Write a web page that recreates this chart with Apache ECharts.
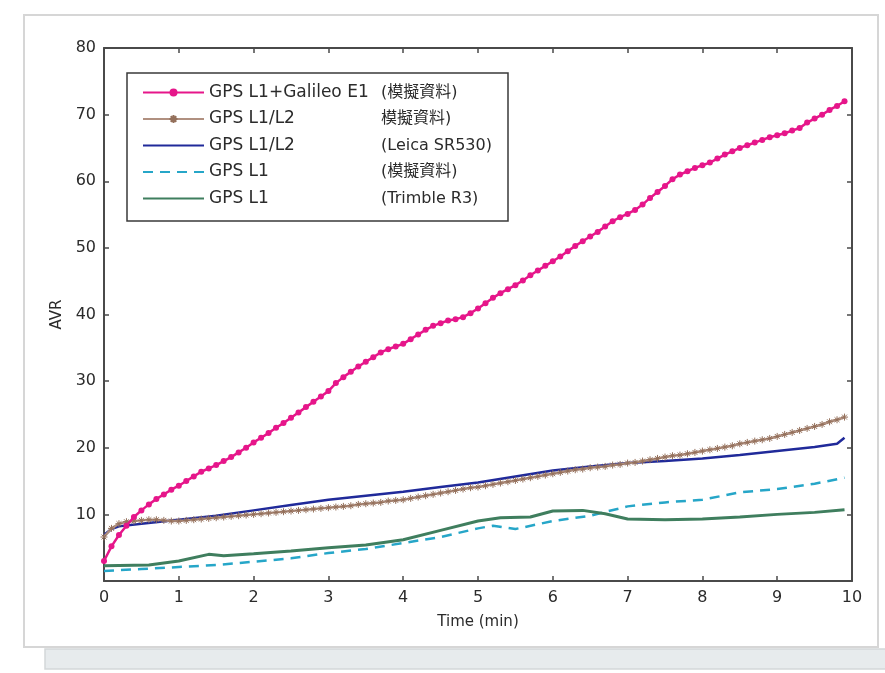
<!DOCTYPE html>
<html>
<head>
<meta charset="utf-8">
<script src="https://cdn.jsdelivr.net/npm/echarts@6/dist/echarts.min.js"></script>
<style>
  html, body { margin: 0; padding: 0; background: #fff; }
  #main { width: 885px; height: 673px; }
</style>
</head>
<body>
<div id="main"></div>
<script>
// time axis for the two marker series (min)
const tDense = [0.0, 0.1, 0.2, 0.3, 0.4, 0.5, 0.6, 0.7, 0.8, 0.9,
    1.0, 1.1, 1.2, 1.3, 1.4, 1.5, 1.6, 1.7, 1.8, 1.9,
    2.0, 2.1, 2.2, 2.3, 2.4, 2.5, 2.6, 2.7, 2.8, 2.9,
    3.0, 3.1, 3.2, 3.3, 3.4, 3.5, 3.6, 3.7, 3.8, 3.9,
    4.0, 4.1, 4.2, 4.3, 4.4, 4.5, 4.6, 4.7, 4.8, 4.9,
    5.0, 5.1, 5.2, 5.3, 5.4, 5.5, 5.6, 5.7, 5.8, 5.9,
    6.0, 6.1, 6.2, 6.3, 6.4, 6.5, 6.6, 6.7, 6.8, 6.9,
    7.0, 7.1, 7.2, 7.3, 7.4, 7.5, 7.6, 7.7, 7.8, 7.9,
    8.0, 8.1, 8.2, 8.3, 8.4, 8.5, 8.6, 8.7, 8.8, 8.9,
    9.0, 9.1, 9.2, 9.3, 9.4, 9.5, 9.6, 9.7, 9.8, 9.9];

// GPS L1+Galileo E1 (simulated)
const galileoSim = [3.0, 5.2, 6.9, 8.3, 9.6, 10.6, 11.5, 12.3, 13.0, 13.7,
    14.3, 15.0, 15.7, 16.4, 16.9, 17.4, 18.0, 18.6, 19.3, 20.0,
    20.8, 21.5, 22.2, 23.0, 23.7, 24.5, 25.3, 26.1, 26.9, 27.7,
    28.5, 29.7, 30.6, 31.4, 32.2, 32.9, 33.6, 34.3, 34.8, 35.2,
    35.6, 36.3, 37.0, 37.7, 38.3, 38.7, 39.1, 39.3, 39.6, 40.2,
    40.9, 41.7, 42.5, 43.2, 43.8, 44.4, 45.1, 45.9, 46.6, 47.3,
    48.0, 48.7, 49.5, 50.3, 51.0, 51.7, 52.4, 53.2, 54.0, 54.6,
    55.1, 55.7, 56.5, 57.5, 58.4, 59.3, 60.3, 61.0, 61.5, 62.0,
    62.4, 62.8, 63.4, 64.0, 64.5, 65.0, 65.4, 65.8, 66.2, 66.6,
    66.9, 67.2, 67.6, 68.0, 68.8, 69.4, 70.0, 70.7, 71.3, 72.0];

// GPS L1/L2 (simulated)
const dualSim = [6.6, 7.9, 8.6, 8.9, 9.0, 9.1, 9.2, 9.2, 9.1, 9.0,
    9.0, 9.1, 9.2, 9.3, 9.4, 9.5, 9.6, 9.7, 9.8, 9.9,
    10.0, 10.1, 10.2, 10.3, 10.4, 10.5, 10.6, 10.7, 10.8, 10.9,
    11.0, 11.1, 11.2, 11.3, 11.5, 11.6, 11.7, 11.8, 12.0, 12.1,
    12.2, 12.4, 12.6, 12.8, 13.0, 13.2, 13.4, 13.6, 13.8, 14.0,
    14.1, 14.3, 14.5, 14.7, 14.9, 15.1, 15.3, 15.5, 15.7, 15.9,
    16.1, 16.3, 16.5, 16.7, 16.8, 17.0, 17.1, 17.2, 17.4, 17.5,
    17.7, 17.8, 18.0, 18.2, 18.4, 18.6, 18.8, 18.9, 19.1, 19.3,
    19.5, 19.7, 19.9, 20.1, 20.3, 20.6, 20.8, 21.0, 21.2, 21.4,
    21.7, 22.0, 22.3, 22.6, 22.9, 23.2, 23.5, 23.9, 24.2, 24.6];

// GPS L1/L2 (Leica SR530)
const tLeica = [0, 0.1, 0.2, 0.5, 1, 1.5, 2, 2.5, 3, 3.5, 4, 4.5, 5, 5.5, 6, 6.5, 7, 7.5, 8, 8.5, 9, 9.5, 9.8, 9.9];
const leica = [6.9, 7.8, 8.2, 8.6, 9.2, 9.8, 10.6, 11.4, 12.2, 12.8, 13.4, 14.1, 14.8, 15.7, 16.6, 17.2, 17.7, 18.0, 18.4, 18.9, 19.5, 20.1, 20.6, 21.5];

// GPS L1 (simulated)
const tL1Sim = [0, 0.5, 1, 1.5, 2, 2.5, 3, 3.5, 4, 4.5, 5, 5.2, 5.5, 6, 6.5, 7, 7.5, 8, 8.5, 9, 9.5, 9.9];
const l1Sim = [1.5, 1.8, 2.1, 2.4, 2.9, 3.4, 4.2, 4.8, 5.7, 6.6, 7.9, 8.3, 7.8, 9.0, 9.8, 11.2, 11.8, 12.2, 13.3, 13.8, 14.6, 15.5];

// GPS L1 (Trimble R3)
const tTrimble = [0, 0.6, 1.0, 1.4, 1.6, 2.0, 2.5, 3.0, 3.5, 4.0, 4.5, 5.0, 5.3, 5.7, 6.0, 6.4, 6.7, 7.0, 7.5, 8.0, 8.5, 9.0, 9.5, 9.9];
const trimble = [2.3, 2.4, 3.0, 4.0, 3.8, 4.1, 4.5, 5.0, 5.4, 6.2, 7.6, 9.0, 9.5, 9.6, 10.5, 10.6, 10.1, 9.3, 9.2, 9.3, 9.6, 10.0, 10.3, 10.7];

const legendLeft = ['GPS L1+Galileo E1', 'GPS L1/L2', 'GPS L1/L2', 'GPS L1', 'GPS L1'];
const legendRight = ['(模擬資料)', '模擬資料)', '(Leica SR530)', '(模擬資料)', '(Trimble R3)'];
const seriesNames = legendLeft.map(function (s, i) { return s + ' ' + legendRight[i]; });

const yTicks = [10, 20, 30, 40, 50, 60, 70, 80];

function pairs(xs, ys) {
    return xs.map(function (x, i) { return [x, ys[i]]; });
}

const font = "'DejaVu Sans', 'Noto Sans CJK TC', sans-serif";
const textColor = '#2b2b2b';
const axisColor = '#4a4a4a';

const myChart = echarts.init(document.getElementById('main'));

const option = {
    backgroundColor: '#ffffff',
    animation: false,
    textStyle: {fontFamily: font},
    graphic: [
        {
            type: 'rect', z: -10, silent: true,
            shape: {x: 45, y: 649, width: 845, height: 20},
            style: {fill: '#e7ebed', stroke: '#d3d7d9', lineWidth: 1.5}
        },
        {
            type: 'rect', z: -10, silent: true,
            shape: {x: 24, y: 15, width: 854, height: 632},
            style: {fill: '#ffffff', stroke: '#d6d6d6', lineWidth: 2}
        }
    ],
    grid: {
        left: 104,
        right: 33,
        top: 48,
        bottom: 92
    },
    legend: {
        orient: 'vertical',
        left: 127,
        top: 73,
        padding: [11, 8, 14, 15],
        itemWidth: 61,
        itemHeight: 10,
        itemGap: 9.5,
        borderColor: '#3a3a3a',
        borderWidth: 1.5,
        backgroundColor: '#ffffff',
        data: seriesNames.map(function (n, i) {
            return i < 2 ? {name: n} : {name: n, itemStyle: {opacity: 0}};
        }),
        formatter: function (name) {
            const i = seriesNames.indexOf(name);
            return '{a|' + legendLeft[i] + '}{b|' + legendRight[i] + '}';
        },
        textStyle: {
            color: textColor,
            fontFamily: font,
            fontSize: 17,
            rich: {
                a: {width: 172, fontSize: 17, lineHeight: 20, fontFamily: font, color: textColor},
                b: {width: 119, fontSize: 16, lineHeight: 20, fontFamily: font, color: textColor}
            }
        }
    },
    xAxis: [
        {
            type: 'value',
            min: 0,
            max: 10,
            interval: 1,
            name: 'Time (min)',
            nameLocation: 'middle',
            nameGap: 34,
            nameTextStyle: {color: textColor, fontSize: 15, fontFamily: font},
            axisLine: {onZero: false, lineStyle: {color: axisColor, width: 2}},
            axisTick: {inside: true, length: 5, lineStyle: {color: axisColor, width: 1.5}},
            axisLabel: {color: textColor, fontSize: 16, margin: 9, fontFamily: font},
            splitLine: {show: false}
        },
        {
            type: 'value',
            position: 'top',
            min: 0,
            max: 10,
            interval: 1,
            axisLine: {show: true, onZero: false, lineStyle: {color: axisColor, width: 2}},
            axisTick: {inside: true, length: 5, lineStyle: {color: axisColor, width: 1.5}},
            axisLabel: {show: false},
            splitLine: {show: false}
        }
    ],
    yAxis: [
        {
            type: 'value',
            min: 0,
            max: 80,
            interval: 10,
            name: 'AVR',
            nameLocation: 'middle',
            nameGap: 38,
            nameTextStyle: {color: textColor, fontSize: 15, fontFamily: font},
            axisLine: {show: true, onZero: false, lineStyle: {color: axisColor, width: 2}},
            axisTick: {show: true, inside: true, length: 5, lineStyle: {color: axisColor, width: 1.5}},
            axisLabel: {
                color: textColor, fontSize: 16, margin: 8, fontFamily: font,
                showMinLabel: false,
                formatter: function (v) { return yTicks.indexOf(v) >= 0 ? String(v) : ''; }
            },
            splitLine: {show: false}
        },
        {
            type: 'value',
            position: 'right',
            min: 0,
            max: 80,
            interval: 10,
            axisLine: {show: true, onZero: false, lineStyle: {color: axisColor, width: 2}},
            axisTick: {show: true, inside: true, length: 5, lineStyle: {color: axisColor, width: 1.5}},
            axisLabel: {show: false},
            splitLine: {show: false}
        }
    ],
    series: [
        {
            name: seriesNames[0],
            type: 'line',
            data: pairs(tDense, galileoSim),
            symbol: 'circle',
            symbolSize: 6,
            showAllSymbol: true,
            color: '#e6168a',
            lineStyle: {color: '#e6168a', width: 2.5},
            itemStyle: {color: '#e6168a'},
            z: 6
        },
        {
            name: seriesNames[1],
            type: 'line',
            data: pairs(tDense, dualSim),
            symbol: 'path://M0,-5L0,5M-5,0L5,0M-3.5,-3.5L3.5,3.5M-3.5,3.5L3.5,-3.5',
            symbolSize: 7,
            showAllSymbol: true,
            color: '#a7836d',
            lineStyle: {color: '#b09080', width: 2.5},
            itemStyle: {color: 'rgba(0,0,0,0)', borderColor: '#94705b', borderWidth: 1},
            z: 4
        },
        {
            name: seriesNames[2],
            type: 'line',
            data: pairs(tLeica, leica),
            symbol: 'none',
            color: '#202a9a',
            lineStyle: {color: '#202a9a', width: 2.5},
            z: 3
        },
        {
            name: seriesNames[3],
            type: 'line',
            data: pairs(tL1Sim, l1Sim),
            symbol: 'none',
            color: '#26a6c8',
            lineStyle: {color: '#26a6c8', width: 2.5, type: [10, 7]},
            z: 3
        },
        {
            name: seriesNames[4],
            type: 'line',
            data: pairs(tTrimble, trimble),
            symbol: 'none',
            color: '#3f7e5e',
            lineStyle: {color: '#3f7e5e', width: 3},
            z: 3
        }
    ]
};

myChart.setOption(option);
window.onresize = myChart.resize;
</script>
</body>
</html>
